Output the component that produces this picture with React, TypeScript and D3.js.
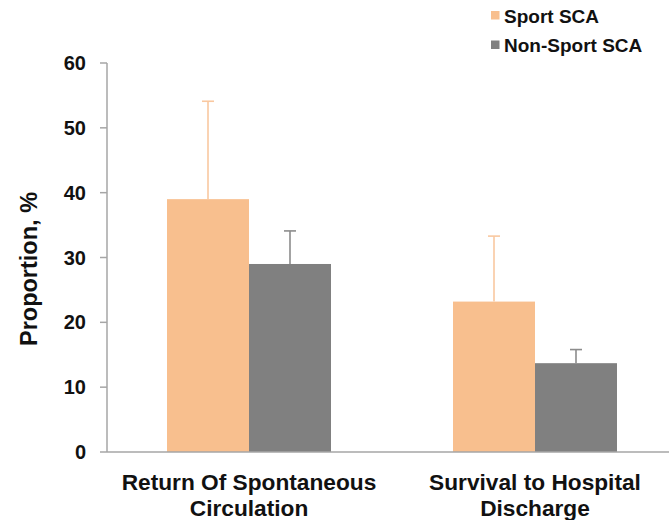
import React from "react";
import * as d3 from "d3";

const categories = ["Return Of Spontaneous\nCirculation", "Survival to Hospital\nDischarge"];
const seriesNames = ["Sport SCA", "Non-Sport SCA"];
const sportValues = [39, 23.2];
const sportUpper = [54.1, 33.3];
const nonSportValues = [29, 13.7];
const nonSportUpper = [34.1, 15.8];
const yTicks = [0, 10, 20, 30, 40, 50, 60];
const colors = ["#F8BF8E", "#808080"];
const errColors = ["#F9C8A0", "#8C8C8C"];

const W = 669;
const H = 520;
const FONT = "'Liberation Sans', Arial, Helvetica, sans-serif";

export default function App() {
  const y = d3.scaleLinear().domain([0, 60]).range([452, 63]);
  const x0 = d3.scaleBand<string>().domain(categories).range([106, 678]).paddingInner(0).paddingOuter(0);
  const x1 = d3.scaleBand<string>().domain(seriesNames).range([0, x0.bandwidth()]).paddingInner(0).paddingOuter(0.744);
  const values = [sportValues, nonSportValues];
  const uppers = [sportUpper, nonSportUpper];
  const axisX = 107;
  const axisColor = "#A6A6A6";

  return (
    <svg width={W} height={H} style={{ position: "absolute", left: 0, top: 0, background: "#fff" }} fontFamily={FONT}>
      {/* bars */}
      {categories.map((c, ci) =>
        seriesNames.map((s, si) => {
          const v = values[si][ci];
          const bx = (x0(c) as number) + (x1(s) as number);
          const bw = x1.bandwidth();
          return (
            <rect key={c + s} x={bx} y={y(v)} width={bw} height={y(0) - y(v)} fill={colors[si]} />
          );
        })
      )}
      {/* error bars */}
      {categories.map((c, ci) =>
        seriesNames.map((s, si) => {
          const v = values[si][ci];
          const u = uppers[si][ci];
          const cx = (x0(c) as number) + (x1(s) as number) + x1.bandwidth() / 2;
          return (
            <g key={"e" + c + s} stroke={errColors[si]} strokeWidth={1.6}>
              <line x1={cx} x2={cx} y1={y(v)} y2={y(u)} />
              <line x1={cx - 6} x2={cx + 6} y1={y(u)} y2={y(u)} />
            </g>
          );
        })
      )}
      {/* y axis */}
      <line x1={axisX} x2={axisX} y1={y(60)} y2={y(0)} stroke={axisColor} strokeWidth={1.5} />
      {yTicks.map((t) => (
        <g key={t}>
          <line x1={axisX - 7} x2={axisX} y1={y(t)} y2={y(t)} stroke={axisColor} strokeWidth={1.5} />
          <text x={86} y={y(t)} dy="0.35em" textAnchor="end" fontSize={20} fontWeight="bold" fill="#111">
            {t}
          </text>
        </g>
      ))}
      {/* x axis */}
      <line x1={axisX} x2={669} y1={y(0)} y2={y(0)} stroke={axisColor} strokeWidth={1.5} />
      {categories.map((c) => {
        const cx = (x0(c) as number) + x0.bandwidth() / 2;
        const lines = c.split("\n");
        return (
          <text key={"l" + c} textAnchor="middle" fontSize={22.7} fontWeight="bold" fill="#111">
            {lines.map((ln, i) => (
              <tspan key={i} x={cx} y={490 + i * 25.5}>
                {ln}
              </tspan>
            ))}
          </text>
        );
      })}
      {/* y label */}
      <text
        transform={`translate(37, 269) rotate(-90)`}
        textAnchor="middle"
        fontSize={23.5}
        fontWeight="bold"
        fill="#111"
      >
        Proportion, %
      </text>
      {/* legend */}
      {seriesNames.map((s, i) => (
        <g key={"lg" + s} transform={`translate(491, ${11 + i * 29.5})`}>
          <rect x={0} y={0} width={8.5} height={8.5} fill={colors[i]} />
          <text x={13} y={11.5} fontSize={19} fontWeight="bold" fill="#111">
            {s}
          </text>
        </g>
      ))}
    </svg>
  );
}
